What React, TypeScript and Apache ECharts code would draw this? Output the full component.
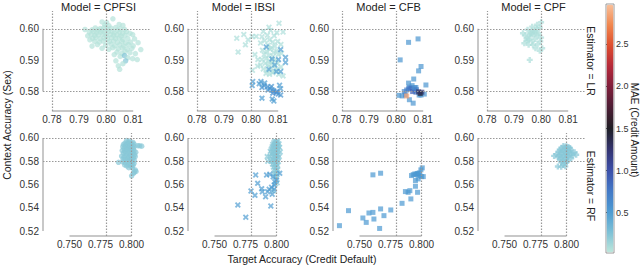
import React, { useEffect, useRef } from "react";
import * as echarts from "echarts";

const FONT = '"Liberation Sans", Arial, Helvetica, sans-serif';

const models = ["CPFSI", "IBSI", "CFB", "CPF"];
const estimators = ["LR", "RF"];

const xTicksLR = [0.78, 0.79, 0.8, 0.81];
const yTicksLR = [0.58, 0.59, 0.6];
const xTicksRF = [0.75, 0.775, 0.8];
const yTicksRF = [0.52, 0.54, 0.56, 0.58, 0.6];
const cbarTicks = [0.5, 1.0, 1.5, 2.0, 2.5];

const xExtLR = [0.7767, 0.8162];
const yExtLR = [0.5738, 0.6057];
const xExtRF = [0.7286, 0.8149];
const yExtRF = [0.5157, 0.6043];

const targetRefLR = [0.78, 0.7998];
const contextRefLR = [0.5989, 0.5793];
const targetRefRF = [0.7802, 0.7996];
const contextRefRF = [0.5972, 0.58];

const maeRange = [0.02, 2.98];

// [target accuracy, context accuracy, MAE]
const lrCPFSI = [
  [0.8025, 0.6032, 0.05], [0.7985, 0.6022, 0.05], [0.8002, 0.602, 0.05], [0.8048, 0.6014, 0.05], [0.8062, 0.6011, 0.05], [0.7995, 0.6012, 0.05], [0.801, 0.601, 0.05],
  [0.796, 0.6003, 0.05], [0.7978, 0.6001, 0.05], [0.7992, 0.6004, 0.05], [0.8005, 0.5999, 0.05], [0.8018, 0.6002, 0.05], [0.8035, 0.6004, 0.05], [0.8052, 0.6, 0.05], [0.8068, 0.5998, 0.05], [0.7948, 0.5997, 0.05], [0.7922, 0.5998, 0.05], [0.797, 0.5996, 0.05], [0.7985, 0.5995, 0.05], [0.8042, 0.5996, 0.05],
  [0.7938, 0.599, 0.05], [0.7955, 0.5991, 0.05], [0.7965, 0.5988, 0.05], [0.798, 0.599, 0.05], [0.7995, 0.5989, 0.05], [0.8008, 0.5991, 0.05], [0.8022, 0.5992, 0.05], [0.803, 0.5987, 0.05], [0.805, 0.5989, 0.05], [0.8075, 0.5991, 0.05], [0.8088, 0.5986, 0.05], [0.806, 0.5985, 0.05],
  [0.7945, 0.5982, 0.05], [0.7958, 0.5979, 0.05], [0.7972, 0.5981, 0.05], [0.7988, 0.5983, 0.05], [0.8, 0.5978, 0.05], [0.8015, 0.5982, 0.05], [0.8028, 0.5979, 0.05], [0.804, 0.5981, 0.05], [0.8055, 0.5977, 0.05], [0.807, 0.598, 0.05], [0.8098, 0.5982, 0.05], [0.7932, 0.5978, 0.05],
  [0.795, 0.597, 0.05], [0.7962, 0.5972, 0.05], [0.7978, 0.5969, 0.05], [0.7992, 0.5971, 0.05], [0.8005, 0.5968, 0.05], [0.802, 0.5972, 0.05], [0.8035, 0.5969, 0.05], [0.8048, 0.5971, 0.05], [0.8062, 0.5966, 0.05], [0.808, 0.597, 0.05], [0.8105, 0.5968, 0.05], [0.794, 0.5965, 0.05],
  [0.7958, 0.596, 0.05], [0.7975, 0.5958, 0.05], [0.799, 0.5961, 0.05], [0.8012, 0.5959, 0.05], [0.8028, 0.5962, 0.05], [0.8042, 0.5957, 0.05], [0.8058, 0.596, 0.05], [0.8072, 0.5955, 0.05], [0.809, 0.5958, 0.05], [0.8118, 0.5956, 0.05],
  [0.7968, 0.595, 0.05], [0.7998, 0.5948, 0.05], [0.8018, 0.5951, 0.05], [0.8032, 0.5946, 0.05], [0.805, 0.5949, 0.05], [0.8065, 0.5945, 0.05], [0.8082, 0.595, 0.05], [0.81, 0.5946, 0.05], [0.7948, 0.5945, 0.05],
  [0.7985, 0.5938, 0.05], [0.8025, 0.594, 0.05], [0.8045, 0.5936, 0.05], [0.806, 0.5939, 0.05], [0.8078, 0.5935, 0.05], [0.8095, 0.5938, 0.05], [0.8128, 0.5934, 0.05], [0.801, 0.5935, 0.05],
  [0.804, 0.5926, 0.05], [0.8058, 0.5922, 0.05], [0.807, 0.5928, 0.05], [0.8088, 0.5924, 0.05], [0.8108, 0.5921, 0.05], [0.803, 0.5918, 0.05],
  [0.8052, 0.5912, 0.05], [0.8068, 0.5915, 0.25], [0.808, 0.5908, 0.06], [0.8098, 0.5905, 0.05], [0.8036, 0.5898, 0.05], [0.8072, 0.5898, 0.22], [0.8062, 0.5889, 0.06], [0.8045, 0.5882, 0.05], [0.805, 0.5871, 0.05], [0.8115, 0.5902, 0.05],
];

const lrIBSI = [
  [0.8103, 0.6018, 0.08], [0.8066, 0.6005, 0.08], [0.7947, 0.597, 0.08], [0.7973, 0.5982, 0.08], [0.7979, 0.5949, 0.08], [0.7952, 0.5926, 0.08], [0.7989, 0.5965, 0.08], [0.8004, 0.5976, 0.08], [0.8019, 0.5976, 0.08], [0.8014, 0.5918, 0.08], [0.8025, 0.5902, 0.08], [0.8024, 0.5881, 0.08], [0.8005, 0.5868, 0.08],
  [0.8045, 0.5992, 0.08], [0.8072, 0.5995, 0.08], [0.8095, 0.5988, 0.08], [0.8118, 0.599, 0.08], [0.806, 0.598, 0.08], [0.8085, 0.5978, 0.08], [0.804, 0.5975, 0.08],
  [0.805, 0.5962, 0.08], [0.8068, 0.5965, 0.08], [0.808, 0.5958, 0.08], [0.8098, 0.596, 0.08], [0.8035, 0.5955, 0.08], [0.8062, 0.5948, 0.08], [0.8088, 0.5945, 0.08], [0.811, 0.595, 0.08], [0.8075, 0.594, 0.08],
  [0.8042, 0.5932, 0.08], [0.8058, 0.5928, 0.08], [0.807, 0.5935, 0.08], [0.8083, 0.5925, 0.08], [0.8095, 0.593, 0.08], [0.8048, 0.5918, 0.08], [0.8065, 0.5915, 0.08], [0.808, 0.5912, 0.08], [0.81, 0.5918, 0.08], [0.8112, 0.5922, 0.08],
  [0.804, 0.5902, 0.08], [0.8055, 0.5905, 0.08], [0.8068, 0.5898, 0.08], [0.8078, 0.5895, 0.08], [0.809, 0.59, 0.08], [0.8052, 0.589, 0.08], [0.8062, 0.5885, 0.08], [0.8075, 0.5888, 0.08], [0.8088, 0.5882, 0.08], [0.8098, 0.589, 0.08], [0.8035, 0.5885, 0.08], [0.811, 0.5878, 0.08],
  [0.8045, 0.5872, 0.08], [0.806, 0.5868, 0.08], [0.8072, 0.5875, 0.08], [0.8085, 0.5865, 0.08], [0.8095, 0.587, 0.08], [0.8055, 0.5858, 0.08], [0.8068, 0.5855, 0.08], [0.808, 0.586, 0.08], [0.8102, 0.5855, 0.08], [0.8118, 0.585, 0.08],
  [0.8056, 0.5942, 0.5], [0.8109, 0.5934, 0.5], [0.8077, 0.5904, 0.5], [0.8101, 0.5902, 0.5], [0.8127, 0.5909, 0.5], [0.8127, 0.5893, 0.5], [0.8087, 0.5885, 0.45], [0.8066, 0.5871, 0.45], [0.8093, 0.5864, 0.5], [0.8109, 0.5864, 0.5],
  [0.8006, 0.5832, 0.5], [0.8004, 0.5819, 0.5], [0.8036, 0.5832, 0.5], [0.8048, 0.5819, 0.55], [0.805, 0.5827, 0.5], [0.804, 0.5813, 0.55], [0.8075, 0.5816, 0.55], [0.8078, 0.5805, 0.55], [0.8084, 0.5802, 0.55], [0.8093, 0.5797, 0.6],
  [0.8109, 0.5789, 0.55], [0.804, 0.5779, 0.5], [0.8078, 0.5776, 0.5], [0.8084, 0.577, 0.5], [0.8109, 0.5809, 0.5], [0.803, 0.5825, 0.5], [0.806, 0.5815, 0.55], [0.807, 0.581, 0.55], [0.808, 0.5795, 0.6], [0.81, 0.5792, 0.55], [0.8095, 0.58, 0.6], [0.8062, 0.5805, 0.55], [0.8105, 0.582, 0.5],
];

const lrCFB = [
  [0.8046, 0.5957, 0.55], [0.8081, 0.5968, 0.55], [0.8015, 0.5901, 0.55], [0.8092, 0.588, 0.55], [0.8083, 0.5866, 0.55], [0.8046, 0.5827, 0.55], [0.8065, 0.584, 0.55],
  [0.8073, 0.5813, 0.6], [0.8049, 0.5814, 0.6], [0.8059, 0.5819, 0.55], [0.803, 0.58, 0.65], [0.8039, 0.5805, 0.7], [0.8046, 0.5809, 0.75], [0.8055, 0.5811, 0.8], [0.8067, 0.5805, 0.85],
  [0.8061, 0.58, 0.9], [0.8073, 0.5798, 0.8], [0.8085, 0.5789, 0.55], [0.8092, 0.5789, 0.55], [0.8104, 0.5792, 0.55], [0.811, 0.5821, 0.55], [0.8049, 0.5774, 0.55], [0.8063, 0.5763, 0.55],
  [0.8022, 0.5786, 0.55], [0.8034, 0.5789, 0.65], [0.801, 0.5788, 0.55], [0.8068, 0.5812, 0.6], [0.8075, 0.5806, 0.7], [0.8039, 0.5786, 2.85], [0.8095, 0.5798, 1.2], [0.8089, 0.5794, 1.45], [0.8083, 0.5799, 1.3],
];

const lrCPF = [
  [0.7933, 0.5986, 0.08], [0.795, 0.5997, 0.08], [0.7967, 0.6007, 0.08], [0.7983, 0.6002, 0.08], [0.7991, 0.5986, 0.08], [0.8, 0.6021, 0.08], [0.7995, 0.6004, 0.08], [0.7973, 0.5981, 0.08],
  [0.796, 0.5976, 0.08], [0.7946, 0.597, 0.08], [0.7938, 0.5954, 0.08], [0.7954, 0.5949, 0.08], [0.7967, 0.596, 0.08], [0.7979, 0.5968, 0.08], [0.7987, 0.5951, 0.08], [0.7997, 0.596, 0.08],
  [0.8004, 0.5938, 0.08], [0.7995, 0.593, 0.08], [0.7958, 0.5901, 0.08], [0.7979, 0.5938, 0.08], [0.797, 0.5949, 0.08], [0.7948, 0.5962, 0.08], [0.7987, 0.5979, 0.08], [0.7975, 0.5991, 0.08],
  [0.7963, 0.5986, 0.08], [0.7985, 0.6013, 0.08], [0.8, 0.5972, 0.08], [0.7942, 0.5979, 0.08], [0.7954, 0.5965, 0.08], [0.7965, 0.5995, 0.08], [0.7978, 0.5993, 0.08], [0.7958, 0.5984, 0.08],
];

const rfCPFSI = [
  [0.796, 0.5978, 0.22], [0.7982, 0.5974, 0.22], [0.7972, 0.5963, 0.22], [0.7948, 0.5955, 0.22], [0.7995, 0.5958, 0.22], [0.8012, 0.5962, 0.22], [0.7935, 0.5945, 0.22], [0.7958, 0.5942, 0.22], [0.798, 0.5946, 0.22], [0.8002, 0.594, 0.22], [0.802, 0.5948, 0.22], [0.805, 0.5934, 0.22], [0.8082, 0.593, 0.22], [0.8065, 0.5933, 0.22],
  [0.793, 0.5925, 0.22], [0.795, 0.593, 0.22], [0.7968, 0.5922, 0.22], [0.7988, 0.5928, 0.22], [0.8006, 0.592, 0.22], [0.8022, 0.5926, 0.22], [0.794, 0.591, 0.22], [0.796, 0.5905, 0.22], [0.798, 0.5912, 0.22], [0.7996, 0.5902, 0.22], [0.8015, 0.5908, 0.22],
  [0.7925, 0.5892, 0.22], [0.7945, 0.5885, 0.22], [0.7965, 0.5895, 0.22], [0.7985, 0.5888, 0.22], [0.8002, 0.5882, 0.22], [0.802, 0.589, 0.22], [0.8034, 0.5878, 0.22], [0.7935, 0.587, 0.22], [0.7955, 0.5865, 0.22], [0.7975, 0.5872, 0.22], [0.7992, 0.5862, 0.22], [0.801, 0.5868, 0.22], [0.8025, 0.5858, 0.22],
  [0.792, 0.5845, 0.22], [0.794, 0.5838, 0.22], [0.796, 0.5848, 0.22], [0.7978, 0.5835, 0.22], [0.7998, 0.5842, 0.22], [0.8015, 0.5832, 0.22], [0.803, 0.584, 0.22], [0.7932, 0.582, 0.22], [0.795, 0.5815, 0.22], [0.797, 0.5825, 0.22], [0.7988, 0.5812, 0.22], [0.8005, 0.5818, 0.22], [0.8022, 0.5808, 0.22],
  [0.7895, 0.5791, 0.22], [0.7928, 0.5795, 0.22], [0.7948, 0.5788, 0.22], [0.7966, 0.5798, 0.22], [0.7985, 0.5785, 0.22], [0.8002, 0.5792, 0.22], [0.802, 0.5782, 0.22], [0.7945, 0.5768, 0.22], [0.7962, 0.576, 0.22], [0.7982, 0.5772, 0.22], [0.7998, 0.5758, 0.22], [0.8012, 0.5765, 0.22],
  [0.8015, 0.5696, 0.22], [0.8001, 0.5675, 0.22], [0.8036, 0.5712, 0.22], [0.8022, 0.5705, 0.22], [0.7978, 0.5745, 0.22], [0.8008, 0.574, 0.22], [0.803, 0.5725, 0.22],
];

const rfIBSI = [
  [0.7985, 0.5975, 0.22], [0.7998, 0.5968, 0.22], [0.801, 0.5972, 0.22], [0.7978, 0.596, 0.22], [0.7992, 0.5955, 0.22], [0.8005, 0.5958, 0.22], [0.802, 0.595, 0.22], [0.797, 0.5945, 0.22], [0.7985, 0.594, 0.22], [0.8, 0.5942, 0.22], [0.8012, 0.5935, 0.22],
  [0.7965, 0.5925, 0.22], [0.798, 0.5928, 0.22], [0.7995, 0.592, 0.22], [0.8008, 0.5925, 0.22], [0.8025, 0.5918, 0.22], [0.7958, 0.5905, 0.22], [0.7975, 0.591, 0.22], [0.799, 0.5902, 0.22], [0.8002, 0.5908, 0.22], [0.8015, 0.5898, 0.22],
  [0.795, 0.5885, 0.22], [0.7968, 0.588, 0.22], [0.7982, 0.5888, 0.22], [0.7995, 0.5878, 0.22], [0.8008, 0.5885, 0.22], [0.803, 0.588, 0.22], [0.796, 0.5862, 0.22], [0.7975, 0.5868, 0.22], [0.7988, 0.5858, 0.22], [0.8, 0.5865, 0.22], [0.8012, 0.5855, 0.22],
  [0.7945, 0.584, 0.22], [0.797, 0.5845, 0.22], [0.7985, 0.5838, 0.22], [0.7998, 0.5842, 0.22], [0.801, 0.5832, 0.22], [0.8022, 0.584, 0.22], [0.7965, 0.582, 0.22], [0.798, 0.5815, 0.22], [0.7992, 0.5822, 0.22], [0.8005, 0.5812, 0.22],
  [0.7955, 0.58, 0.22], [0.7972, 0.5795, 0.22], [0.7988, 0.5802, 0.22], [0.8, 0.579, 0.22], [0.8015, 0.5798, 0.22], [0.7968, 0.5775, 0.22], [0.7982, 0.577, 0.22], [0.7995, 0.5778, 0.22], [0.8008, 0.5765, 0.22], [0.7975, 0.575, 0.22], [0.799, 0.5745, 0.22], [0.8002, 0.5752, 0.22],
  [0.7985, 0.5725, 0.22], [0.7998, 0.572, 0.22], [0.801, 0.5728, 0.22], [0.798, 0.57, 0.22], [0.7995, 0.5695, 0.22], [0.8005, 0.5685, 0.22], [0.7988, 0.5672, 0.22], [0.8, 0.5662, 0.22], [0.7975, 0.5545, 0.22], [0.799, 0.5605, 0.22], [0.8005, 0.5615, 0.22], [0.793, 0.58, 0.22], [0.7925, 0.584, 0.22],
  [0.7688, 0.5424, 0.5], [0.7752, 0.5318, 0.5], [0.7832, 0.5682, 0.5], [0.7848, 0.561, 0.5], [0.7794, 0.5544, 0.5], [0.7826, 0.5507, 0.5], [0.788, 0.5564, 0.5], [0.7912, 0.5495, 0.5], [0.7928, 0.5538, 0.5], [0.7941, 0.5559, 0.5], [0.796, 0.5576, 0.5],
  [0.7981, 0.5596, 0.5], [0.7954, 0.5415, 0.5], [0.7965, 0.5516, 0.5], [0.7986, 0.5624, 0.5], [0.8, 0.5639, 0.5], [0.8026, 0.5696, 0.5], [0.792, 0.5682, 0.5], [0.7946, 0.5688, 0.5], [0.7973, 0.5667, 0.5], [0.7981, 0.5559, 0.5], [0.7885, 0.5538, 0.5],
];

const rfCFB = [
  [0.7338, 0.5246, 0.52], [0.7411, 0.5375, 0.52], [0.7527, 0.5312, 0.52], [0.7554, 0.5274, 0.52], [0.7576, 0.5355, 0.52], [0.7608, 0.536, 0.52], [0.7616, 0.5303, 0.52], [0.767, 0.539, 0.52], [0.7697, 0.5332, 0.52], [0.7662, 0.5222, 0.52], [0.7752, 0.5381, 0.52],
  [0.7608, 0.5683, 0.52], [0.767, 0.5697, 0.52], [0.7843, 0.5438, 0.52], [0.787, 0.5539, 0.52], [0.7892, 0.5533, 0.52], [0.7906, 0.5547, 0.52], [0.7914, 0.5476, 0.52], [0.7951, 0.5585, 0.52], [0.7968, 0.5533, 0.52],
  [0.7946, 0.5691, 0.52], [0.7959, 0.5685, 0.52], [0.7973, 0.5691, 0.52], [0.7987, 0.5677, 0.52], [0.8, 0.5668, 0.52], [0.7995, 0.5726, 0.52], [0.8006, 0.5743, 0.52], [0.8014, 0.5668, 0.52], [0.7973, 0.5648, 0.52], [0.7933, 0.5685, 0.52], [0.7919, 0.5677, 0.52], [0.7951, 0.5634, 0.52], [0.7965, 0.5695, 0.52], [0.7982, 0.57, 0.52],
];

const rfCPF = [
  [0.7975, 0.5932, 0.22], [0.7998, 0.5928, 0.22], [0.8015, 0.5922, 0.22], [0.796, 0.5915, 0.22], [0.7985, 0.5918, 0.22], [0.8005, 0.591, 0.22], [0.8028, 0.5914, 0.22], [0.7945, 0.59, 0.22], [0.7968, 0.5896, 0.22], [0.799, 0.5902, 0.22], [0.8012, 0.5893, 0.22], [0.8035, 0.5898, 0.22],
  [0.7935, 0.5882, 0.22], [0.7955, 0.5876, 0.22], [0.7978, 0.5884, 0.22], [0.7998, 0.5873, 0.22], [0.802, 0.588, 0.22], [0.8045, 0.5872, 0.22], [0.8065, 0.5878, 0.22], [0.792, 0.586, 0.22], [0.7942, 0.5853, 0.22], [0.7965, 0.5861, 0.22], [0.7985, 0.5855, 0.22], [0.8005, 0.585, 0.22],
  [0.8025, 0.5858, 0.22], [0.8048, 0.5849, 0.22], [0.8078, 0.5856, 0.22], [0.79, 0.5846, 0.22], [0.793, 0.5836, 0.22], [0.7952, 0.583, 0.22], [0.7975, 0.5839, 0.22], [0.7995, 0.5828, 0.22], [0.8015, 0.5836, 0.22], [0.8038, 0.5826, 0.22],
  [0.7948, 0.5813, 0.22], [0.7968, 0.5808, 0.22], [0.799, 0.5815, 0.22], [0.801, 0.5805, 0.22], [0.7958, 0.5792, 0.22], [0.798, 0.5786, 0.22], [0.8002, 0.5793, 0.22], [0.793, 0.5755, 0.22], [0.7957, 0.5752, 0.22], [0.799, 0.5756, 0.22], [0.7972, 0.577, 0.22],
];

const panelData = [lrCPFSI, lrIBSI, lrCFB, lrCPF, rfCPFSI, rfIBSI, rfCFB, rfCPF];

const icefire = [
  "#bde7db", "#7cc0d6", "#4c9ad2", "#4378c6", "#3c4ea8", "#33336e", "#1f1e24",
  "#4b1d33", "#7e1e3b", "#b4283a", "#dd4c2d", "#f1864d", "#f9c09a",
];

const SYMBOLS = [
  "circle",
  "path://M0,2.2L2.2,0L5,2.8L7.8,0L10,2.2L7.2,5L10,7.8L7.8,10L5,7.2L2.2,10L0,7.8L2.8,5Z",
  "rect",
  "path://M3,0H7V3H10V7H7V10H3V7H0V3H3Z",
];
const SIZES = [5.5, 6, 5, 6];

export default function App() {
  const ref = useRef<HTMLDivElement>(null);

  useEffect(() => {
    document.body.style.margin = "0";
    const chart = echarts.init(ref.current!, null, { renderer: "svg" });

    const grids: any[] = [];
    const xAxes: any[] = [];
    const yAxes: any[] = [];
    const series: any[] = [];
    const scatterIdx: number[] = [];
    const graphics: any[] = [];

    const labelStyle = { fontSize: 10, color: "#333", fontFamily: FONT };

    for (let i = 0; i < 8; i++) {
      const r = Math.floor(i / 4);
      const c = i % 4;
      const left = 43 + 145 * c;
      const top = r ? 133 : 11;
      const height = r ? 103 : 100;
      const width = 107;
      grids.push({ left, top, width, height, containLabel: false, outerBoundsMode: "none" });
      const xExt = r ? xExtRF : xExtLR;
      const yExt = r ? yExtRF : yExtLR;
      const xT = r ? xTicksRF : xTicksLR;
      const yT = r ? yTicksRF : yTicksLR;
      xAxes.push({
        type: "value", gridIndex: i, min: xExt[0], max: xExt[1],
        axisLine: { show: false }, axisTick: { show: false }, splitLine: { show: false },
        axisLabel: {
          ...labelStyle, margin: 3, customValues: xT,
          formatter: (v: number) => v.toFixed(r ? 3 : 2),
        },
      });
      yAxes.push({
        type: "value", gridIndex: i, min: yExt[0], max: yExt[1],
        axisLine: { show: false }, axisTick: { show: false }, splitLine: { show: false },
        axisLabel: {
          ...labelStyle, margin: 4, customValues: yT,
          formatter: (v: number) => v.toFixed(2),
        },
      });
      const tRef = r ? targetRefRF : targetRefLR;
      const cRef = r ? contextRefRF : contextRefLR;
      // x spine with reference lines
      series.push({
        type: "line", xAxisIndex: i, yAxisIndex: i, silent: true, clip: false, z: 1,
        symbol: "none", lineStyle: { color: "#c8c8c8", width: 2 },
        data: [[xT[0], yExt[0]], [xT[xT.length - 1], yExt[0]]],
        markLine: {
          silent: true, symbol: "none", label: { show: false },
          lineStyle: { color: "#999", width: 1.2, type: [1.5, 1.5] },
          data: [
            { xAxis: tRef[0] }, { xAxis: tRef[1] },
            { yAxis: cRef[0] }, { yAxis: cRef[1] },
          ],
        },
      });
      // y spine
      series.push({
        type: "line", xAxisIndex: i, yAxisIndex: i, silent: true, clip: false, z: 1,
        symbol: "none", lineStyle: { color: "#c8c8c8", width: 2 },
        data: [[xExt[0], yT[0]], [xExt[0], yT[yT.length - 1]]],
      });
      scatterIdx.push(series.length);
      series.push({
        type: "scatter", xAxisIndex: i, yAxisIndex: i, z: 3,
        symbol: SYMBOLS[c], symbolSize: SIZES[c],
        itemStyle: { opacity: 0.7 },
        data: panelData[i],
      });
      if (r === 0) {
        graphics.push({
          type: "text", x: left + 2 + width / 2, y: 7,
          style: { text: `Model = ${models[c]}`, textAlign: "center", textVerticalAlign: "middle", fontSize: 11, fill: "#222", fontFamily: FONT },
        });
      }
    }

    // colorbar axis
    grids.push({ left: 606, top: 4, width: 8, height: 249, show: true, borderColor: "#999", borderWidth: 1, backgroundColor: "transparent", containLabel: false, outerBoundsMode: "none" });
    xAxes.push({ type: "value", gridIndex: 8, show: false, min: 0, max: 1 });
    yAxes.push({
      type: "value", gridIndex: 8, position: "right", min: maeRange[0], max: maeRange[1],
      axisLine: { show: false }, splitLine: { show: false },
      axisTick: { show: true, length: 2.5, customValues: cbarTicks, lineStyle: { color: "#333", width: 1 } },
      axisLabel: { ...labelStyle, fontSize: 9, margin: 2, customValues: cbarTicks, formatter: (v: number) => v.toFixed(1) },
    });

    graphics.push(
      {
        type: "text", x: 7, y: 125, rotation: Math.PI / 2,
        style: { text: "Context Accuracy (Sex)", textAlign: "center", textVerticalAlign: "middle", fontSize: 10.5, fill: "#222", fontFamily: FONT },
      },
      {
        type: "text", x: 302, y: 259,
        style: { text: "Target Accuracy (Credit Default)", textAlign: "center", textVerticalAlign: "middle", fontSize: 10.5, fill: "#222", fontFamily: FONT },
      },
      {
        type: "text", x: 591, y: 61, rotation: -Math.PI / 2,
        style: { text: `Estimator = ${estimators[0]}`, textAlign: "center", textVerticalAlign: "middle", fontSize: 10.5, fill: "#222", fontFamily: FONT },
      },
      {
        type: "text", x: 591, y: 186, rotation: -Math.PI / 2,
        style: { text: `Estimator = ${estimators[1]}`, textAlign: "center", textVerticalAlign: "middle", fontSize: 10.5, fill: "#222", fontFamily: FONT },
      },
      {
        type: "text", x: 634.5, y: 130, rotation: -Math.PI / 2,
        style: { text: "MAE (Credit Amount)", textAlign: "center", textVerticalAlign: "middle", fontSize: 10, fill: "#222", fontFamily: FONT },
      }
    );

    chart.setOption({
      animation: false,
      backgroundColor: "#fff",
      textStyle: { fontFamily: FONT },
      grid: grids,
      xAxis: xAxes,
      yAxis: yAxes,
      visualMap: {
        type: "continuous", min: maeRange[0], max: maeRange[1], dimension: 2,
        seriesIndex: scatterIdx, calculable: false, orient: "vertical",
        left: 606.5, top: 4.5, itemWidth: 7, itemHeight: 248, padding: 0,
        inRange: { color: icefire },
        hoverLink: false,
      },
      series,
      graphic: graphics,
    });

    return () => chart.dispose();
  }, []);

  return <div ref={ref} style={{ width: 640, height: 268 }} />;
}
